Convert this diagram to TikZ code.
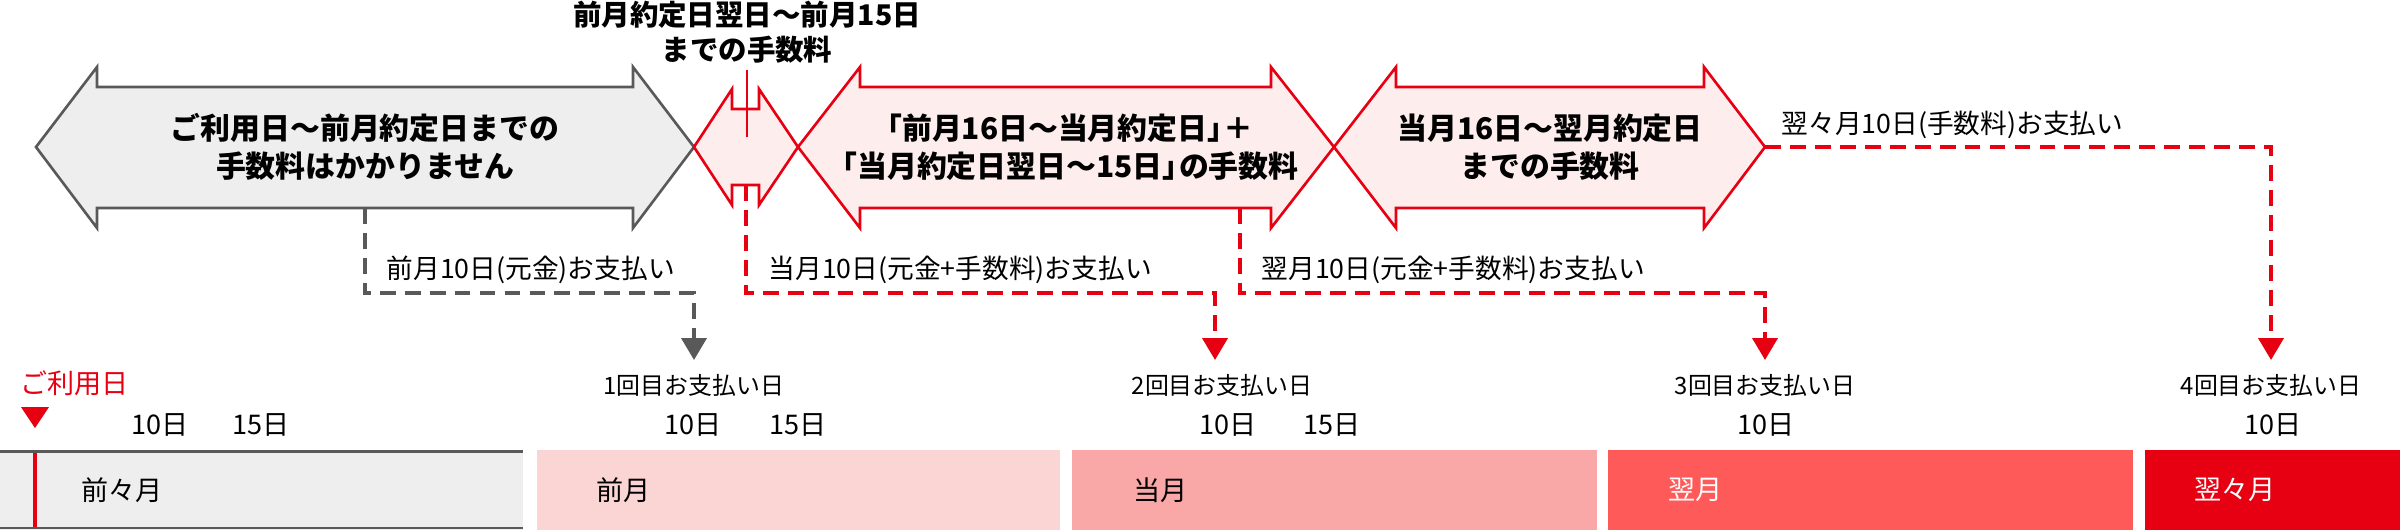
\documentclass[tikz,border=0pt]{standalone}
\usepackage{fontspec}
\setmainfont{Noto Sans CJK JP}
\usepackage{xcolor}
\usetikzlibrary{arrows.meta,positioning}

\definecolor{cardred}{HTML}{E60012}
\definecolor{cardgray}{HTML}{595959}
\definecolor{feegray}{HTML}{EEEEEE}
\definecolor{feepink}{HTML}{FDEDED}
\definecolor{monthA}{HTML}{FBD4D4}
\definecolor{monthB}{HTML}{FAA7A7}
\definecolor{monthC}{HTML}{FF5A5A}

\begin{document}
\begin{tikzpicture}[x=0.1mm, y=-0.1mm,
    feeshape/.style={line width=0.75pt},
    feetext/.style={font=\fontsize{8.5}{10.8}\selectfont\bfseries, align=center, inner sep=0pt},
    notetext/.style={font=\fontsize{8.1}{10}\selectfont\bfseries, align=center, inner sep=0pt},
    paytext/.style={font=\fontsize{7.6}{9}\selectfont, inner sep=0pt, anchor=west},
    daytext/.style={font=\fontsize{7.7}{9}\selectfont, inner sep=0pt},
    counttext/.style={font=\fontsize{6.8}{8}\selectfont, inner sep=0pt},
    payline/.style={line width=1.1pt, dash pattern=on 4.5pt off 2.6pt, -{Triangle[width=2.5mm,length=2.2mm]}}]

    \useasboundingbox (0,0) rectangle (2400,530);

    % fee periods
    \filldraw[feeshape, draw=cardgray, fill=feegray] (36,147) -- (97,67) -- (97,87) -- (633,87) -- (633,67) -- (694,147) -- (633,228) -- (633,208) -- (97,208) -- (97,228) -- cycle;
    \filldraw[feeshape, draw=cardred, fill=feepink] (694,147) -- (732,89) -- (732,109) -- (759,109) -- (759,89) -- (798,147) -- (759,205) -- (759,185) -- (732,185) -- (732,205) -- cycle;
    \filldraw[feeshape, draw=cardred, fill=feepink] (798,147) -- (860,67) -- (860,87) -- (1271,87) -- (1271,67) -- (1334,147) -- (1271,228) -- (1271,208) -- (860,208) -- (860,228) -- cycle;
    \filldraw[feeshape, draw=cardred, fill=feepink] (1334,147) -- (1396,67) -- (1396,87) -- (1704,87) -- (1704,67) -- (1765,147) -- (1704,228) -- (1704,208) -- (1396,208) -- (1396,228) -- cycle;

    \node[feetext] (free) at (365,147) {ご利用日～前月約定日までの\\手数料はかかりません};
    \node[feetext] (fee2) at (1063,147) {「前月16日～当月約定日」\kern-.45em＋\\「当月約定日翌日～15日」\kern-.45emの手数料};
    \node[feetext] (fee3) at (1550,147) {当月16日～翌月約定日\\までの手数料};
    \node[notetext] (fee1) at (747,32) {前月約定日翌日～前月15日\\までの手数料};

    \coordinate (fee1foot) at (747,70);
    \coordinate (fee1mid) at (747,137);
    \draw[cardred, line width=0.75pt] (fee1foot) -- (fee1mid);

    % payments
    \coordinate (foot0) at (365,208);
    \coordinate (foot1) at (746,185);
    \coordinate (foot2) at (1240,208);
    \coordinate (foot3) at (1765,147);
    \coordinate (tip1) at (694,360);
    \coordinate (tip2) at (1215,360);
    \coordinate (tip3) at (1765,360);
    \coordinate (tip4) at (2271,360);

    \draw[payline, cardgray] (foot0) -- ++(0,85) -| (tip1);
    \draw[payline, cardred] (foot1) -- ++(0,108) -| (tip2);
    \draw[payline, cardred] (foot2) -- ++(0,85) -| (tip3);
    \draw[payline, cardred] (foot3) -| (tip4);

    \node[paytext] (pay1note) at (386,270) {前月10日(元金)お支払い};
    \node[paytext] (pay2note) at (768,270) {当月10日(元金+手数料)お支払い};
    \node[paytext] (pay3note) at (1261,270) {翌月10日(元金+手数料)お支払い};
    \node[paytext] (pay4note) at (1781,125) {翌々月10日(手数料)お支払い};

    \node[counttext] (count1) at (694,385) {1回目お支払い日};
    \node[counttext] (count2) at (1222,385) {2回目お支払い日};
    \node[counttext] (count3) at (1765,385) {3回目お支払い日};
    \node[counttext] (count4) at (2271,385) {4回目お支払い日};

    \node[daytext] (day0a) at (160,425) {10日};
    \node[daytext] (day0b) at (261,425) {15日};
    \node[daytext] (day1a) at (693,425) {10日};
    \node[daytext] (day1b) at (798,425) {15日};
    \node[daytext] (day2a) at (1228,425) {10日};
    \node[daytext] (day2b) at (1332,425) {15日};
    \node[daytext] (day3a) at (1766,425) {10日};
    \node[daytext] (day4a) at (2273,425) {10日};

    % months
    \fill[feegray] (0,450) rectangle (523,530);
    \draw[cardgray, line width=0.77pt] (0,451.3) -- (523,451.3) (0,528) -- (523,528);
    \fill[monthA] (537,450) rectangle (1060,530);
    \fill[monthB] (1072,450) rectangle (1597,530);
    \fill[monthC] (1608,450) rectangle (2133,530);
    \fill[cardred] (2145,450) rectangle (2400,530);

    \node[daytext, anchor=west] (month0) at (81,490) {前々月};
    \node[daytext, anchor=west] (month1) at (596,490) {前月};
    \node[daytext, anchor=west] (month2) at (1133,490) {当月};
    \node[daytext, anchor=west, text=white] (month3) at (1668,490) {翌月};
    \node[daytext, anchor=west, text=white] (month4) at (2194,490) {翌々月};

    \node[daytext, anchor=west, text=cardred] (useday) at (20,383) {ご利用日};
    \fill[cardred] (21,407) -- (49,407) -- (35,428) -- cycle;
    \draw[cardred, line width=1pt] (35,452.5) -- (35,526.5);
\end{tikzpicture}
\end{document}
